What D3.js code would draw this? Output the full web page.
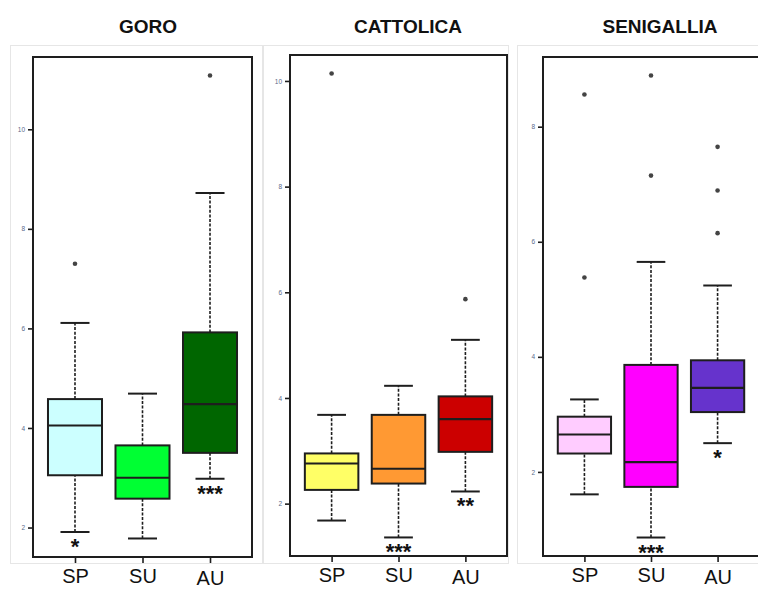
<!DOCTYPE html>
<html>
<head>
<meta charset="utf-8">
<script src="https://cdn.jsdelivr.net/npm/d3@7"></script>
<style>
  html, body { margin: 0; padding: 0; background: #ffffff; }
  svg { display: block; }
</style>
</head>
<body>
<svg id="chart" width="758" height="590"></svg>
<script>
// Seasons shown in every panel
const categories = ["SP", "SU", "AU"];
const sites = ["GORO", "CATTOLICA", "SENIGALLIA"];

// Box statistics per season: [lower whisker, Q1, median, Q3, upper whisker]
const goroStats = [[1.91, 3.05, 4.05, 4.58, 6.11], [1.78, 2.58, 3.00, 3.65, 4.69], [2.98, 3.50, 4.48, 5.92, 8.72]];
const goroOutliers = [[7.30], [], [11.08]];
const goroStars = ["*", "", "***"];

const cattolicaStats = [[1.68, 2.26, 2.76, 2.95, 3.68], [1.36, 2.38, 2.66, 3.68, 4.23], [2.23, 2.98, 3.60, 4.03, 5.10]];
const cattolicaOutliers = [[10.14], [], [5.87]];
const cattolicaStars = ["", "***", "**"];

const senigalliaStats = [[1.61, 2.32, 2.65, 2.96, 3.26], [0.86, 1.74, 2.17, 3.86, 5.65], [2.50, 3.04, 3.46, 3.94, 5.24]];
const senigalliaOutliers = [[8.56, 5.38], [8.89, 7.15], [7.65, 6.89, 6.15]];
const senigalliaStars = ["", "***", "*"];

const goroColors = ["#ccffff", "#00ff33", "#006600"];
const cattolicaColors = ["#ffff66", "#ff9933", "#cc0000"];
const senigalliaColors = ["#ffccff", "#ff00ff", "#6633cc"];

const goroTicks = [2, 4, 6, 8, 10];
const cattolicaTicks = [2, 4, 6, 8, 10];
const senigalliaTicks = [2, 4, 6, 8];

const panels = [
  { title: sites[0], stats: goroStats, outliers: goroOutliers, stars: goroStars, colors: goroColors, ticks: goroTicks,
    card: [10, 45, 252, 518], plot: [33, 57, 252, 557], titleX: 148 },
  { title: sites[1], stats: cattolicaStats, outliers: cattolicaOutliers, stars: cattolicaStars, colors: cattolicaColors, ticks: cattolicaTicks,
    card: [263, 45, 245, 518], plot: [290, 55, 507, 556], titleX: 408 },
  { title: sites[2], stats: senigalliaStats, outliers: senigalliaOutliers, stars: senigalliaStars, colors: senigalliaColors, ticks: senigalliaTicks,
    card: [517, 45, 241, 518], plot: [543, 57, 759, 556], titleX: 660 }
];

const svg = d3.select("#chart");
const ink = "#1e1e1e";

panels.forEach(p => {
  const g = svg.append("g");
  const [x0, y0, x1, y1] = p.plot;

  // light frame around each panel
  g.append("rect")
    .attr("x", p.card[0] + 0.5).attr("y", p.card[1] + 0.5)
    .attr("width", p.card[2]).attr("height", p.card[3])
    .attr("fill", "none").attr("stroke", "#e6e6e6").attr("stroke-width", 1);

  // title
  g.append("text")
    .attr("x", p.titleX).attr("y", 33)
    .attr("text-anchor", "middle")
    .attr("font-family", "Liberation Sans, Arial, sans-serif")
    .attr("font-weight", "bold").attr("font-size", 19)
    .attr("fill", "#111")
    .text(p.title);

  // y range padded by 4% of the data span on each side
  const all = p.stats.flat().concat(p.outliers.flat());
  const lo = d3.min(all), hi = d3.max(all), span = hi - lo;
  const y = d3.scaleLinear().domain([lo - 0.04 * span, hi + 0.04 * span]).range([y1, y0]);
  const x = d3.scalePoint().domain(categories).range([x0, x1]).padding(0.622);
  const step = x.step();
  const boxW = step * 0.8;
  const capW = step * 0.43;

  // y axis
  const yAxis = d3.axisLeft(y).tickValues(p.ticks).tickSize(5).tickPadding(3).tickFormat(d3.format("d"));
  const ya = g.append("g").attr("transform", `translate(${x0},0)`).call(yAxis);
  ya.select(".domain").remove();
  ya.selectAll(".tick line").attr("stroke", ink).attr("stroke-width", 1.6);
  ya.selectAll(".tick text").attr("font-size", 6.5).attr("fill", "#5a6a8a")
    .attr("font-family", "Liberation Sans, Arial, sans-serif");

  // x axis
  const xAxis = d3.axisBottom(x).tickSize(6).tickPadding(10);
  const xa = g.append("g").attr("transform", `translate(0,${y1})`).call(xAxis);
  xa.select(".domain").remove();
  xa.selectAll(".tick line").attr("stroke", ink).attr("stroke-width", 1.6);
  xa.selectAll(".tick text")
    .attr("font-size", 20).attr("fill", "#111")
    .attr("font-family", "Liberation Sans, Arial, sans-serif")
    .attr("y", 10).attr("dy", d => d === "AU" ? "0.9em" : "0.82em");

  const data = categories.map((c, i) => ({
    cat: c, s: p.stats[i], out: p.outliers[i], star: p.stars[i], color: p.colors[i]
  }));

  const grp = g.selectAll(".grp").data(data).join("g").attr("class", "grp");

  // dashed whiskers
  grp.append("line")
    .attr("x1", d => x(d.cat)).attr("x2", d => x(d.cat))
    .attr("y1", d => y(d.s[0])).attr("y2", d => y(d.s[1]))
    .attr("stroke", ink).attr("stroke-width", 1.6).attr("stroke-dasharray", "3,1.6");
  grp.append("line")
    .attr("x1", d => x(d.cat)).attr("x2", d => x(d.cat))
    .attr("y1", d => y(d.s[3])).attr("y2", d => y(d.s[4]))
    .attr("stroke", ink).attr("stroke-width", 1.6).attr("stroke-dasharray", "3,1.6");

  // whisker caps
  [0, 4].forEach(k => {
    grp.append("line")
      .attr("x1", d => x(d.cat) - capW / 2).attr("x2", d => x(d.cat) + capW / 2)
      .attr("y1", d => y(d.s[k])).attr("y2", d => y(d.s[k]))
      .attr("stroke", ink).attr("stroke-width", 2);
  });

  // boxes
  grp.append("rect")
    .attr("x", d => x(d.cat) - boxW / 2).attr("width", boxW)
    .attr("y", d => y(d.s[3])).attr("height", d => y(d.s[1]) - y(d.s[3]))
    .attr("fill", d => d.color).attr("stroke", ink).attr("stroke-width", 2);

  // medians
  grp.append("line")
    .attr("x1", d => x(d.cat) - boxW / 2).attr("x2", d => x(d.cat) + boxW / 2)
    .attr("y1", d => y(d.s[2])).attr("y2", d => y(d.s[2]))
    .attr("stroke", ink).attr("stroke-width", 2.2);

  // outliers
  grp.selectAll("circle").data(d => d.out.map(v => ({ cat: d.cat, v })))
    .join("circle")
    .attr("cx", d => x(d.cat)).attr("cy", d => y(d.v)).attr("r", 2.3)
    .attr("fill", "#444");

  // significance stars under the lower whisker
  grp.append("text")
    .attr("x", d => x(d.cat)).attr("y", d => y(d.s[0]) + 22)
    .attr("text-anchor", "middle")
    .attr("font-family", "Liberation Sans, Arial, sans-serif")
    .attr("font-weight", "bold").attr("font-size", 22).attr("fill", "#111")
    .text(d => d.star);

  // plot frame
  g.append("rect")
    .attr("x", x0).attr("y", y0).attr("width", x1 - x0).attr("height", y1 - y0)
    .attr("fill", "none").attr("stroke", ink).attr("stroke-width", 2);
});
</script>
</body>
</html>
